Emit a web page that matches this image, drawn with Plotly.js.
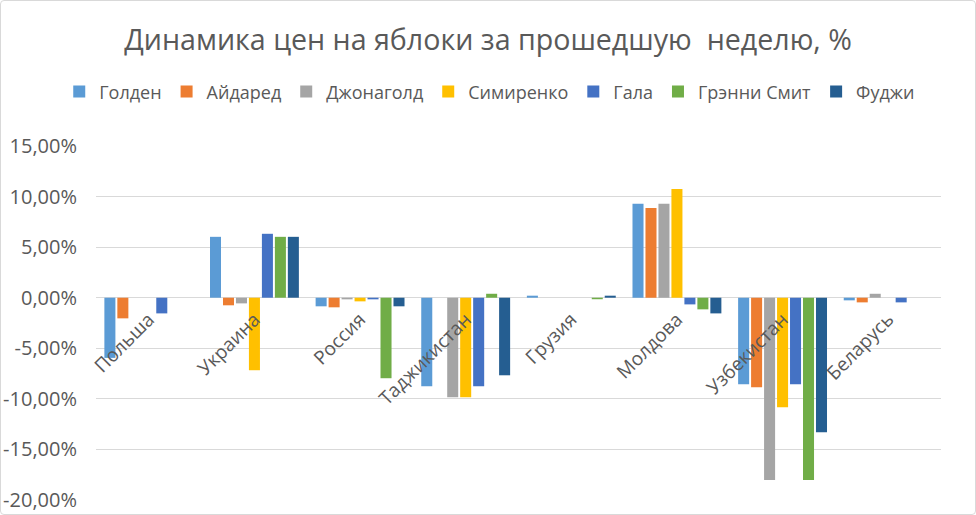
<!DOCTYPE html>
<html><head><meta charset="utf-8">
<script src="https://cdn.plot.ly/plotly-3.0.1.min.js"></script>
<style>
html,body{margin:0;padding:0;background:#fff;}
#wrap{position:relative;width:976px;height:515px;}
#chart{width:976px;height:515px;}
#frame{position:absolute;left:0;top:0;width:974px;height:513px;border:1px solid #d9d9d9;border-radius:4px;pointer-events:none;}
</style></head>
<body>
<div id="wrap"><div id="chart"></div><div id="frame"></div></div>
<script>
const categories = ["Польша","Украина","Россия","Таджикистан","Грузия","Молдова","Узбекистан","Беларусь"];
const seriesNames = ["Голден","Айдаред","Джонаголд","Симиренко","Гала","Грэнни Смит","Фуджи"];
const golden     = [-5.95, 6.02, -0.85, -8.75, 0.20, 9.28, -8.55, -0.26];
const aidared    = [-2.04, -0.75, -0.95, 0.00, 0.00, 8.88, -8.85, -0.46];
const jonagold   = [0.00, -0.56, -0.16, -9.84, 0.00, 9.28, -18.03, 0.39];
const simirenko  = [0.00, -7.17, -0.36, -9.84, 0.00, 10.76, -10.83, 0.00];
const gala       = [-1.55, 6.32, -0.16, -8.75, 0.00, -0.66, -8.55, -0.46];
const granny     = [0.00, 6.02, -7.96, 0.39, -0.15, -1.15, -18.03, 0.00];
const fuji       = [0.00, 6.02, -0.85, -7.67, 0.20, -1.55, -13.30, 0.00];
const tickValues = [-20, -15, -10, -5, 0, 5, 10, 15];
const tickLabels = ["-20,00%","-15,00%","-10,00%","-5,00%","0,00%","5,00%","10,00%","15,00%"];

const colors = ["#5B9BD5","#ED7D31","#A5A5A5","#FFC000","#4472C4","#70AD47","#255E91"];
const allSeries = [golden, aidared, jonagold, simirenko, gala, granny, fuji];
const yRange = [-20, 15];

const traces = allSeries.map((vals, i) => ({
  type: 'bar', name: seriesNames[i], x: categories, y: vals,
  marker: {color: colors[i]}
}));

const font = "'Open Sans', sans-serif";
const layout = {
  width: 976, height: 515,
  margin: {l: 96, r: 35, t: 146, b: 15},
  paper_bgcolor: '#fff', plot_bgcolor: '#fff',
  barmode: 'group', bargap: 0.14, bargroupgap: 0.15,
  font: {family: font, color: '#595959', size: 16},
  title: {text: "Динамика цен на яблоки за прошедшую  неделю, %", x: 0.5, xanchor: 'center', y: 0.922, yanchor: 'middle',
          font: {family: font, size: 28.6, color: '#595959'}},
  showlegend: true,
  legend: {orientation: 'h', x: -0.0435, xanchor: 'left', y: 1.153, yanchor: 'middle',
           font: {family: font, size: 18, color: '#595959'}, itemwidth: 30, traceorder: 'normal'},
  xaxis: {type: 'category', anchor: 'free', position: (0 - yRange[0]) / (yRange[1] - yRange[0]),
          showline: false, ticks: '', tickangle: -45, showgrid: false, ticklabelstandoff: 6,
          tickfont: {family: font, size: 19, color: '#595959'}},
  yaxis: {range: yRange, tickvals: tickValues, ticktext: tickLabels, showgrid: true, gridcolor: '#d9d9d9',
          zeroline: true, zerolinecolor: '#d9d9d9', zerolinewidth: 1, ticks: '', ticklabelstandoff: 18,
          tickfont: {family: font, size: 20, color: '#595959'}, showline: false}
};
Plotly.newPlot('chart', traces, layout, {displayModeBar: false, staticPlot: true});
</script>
</body></html>
